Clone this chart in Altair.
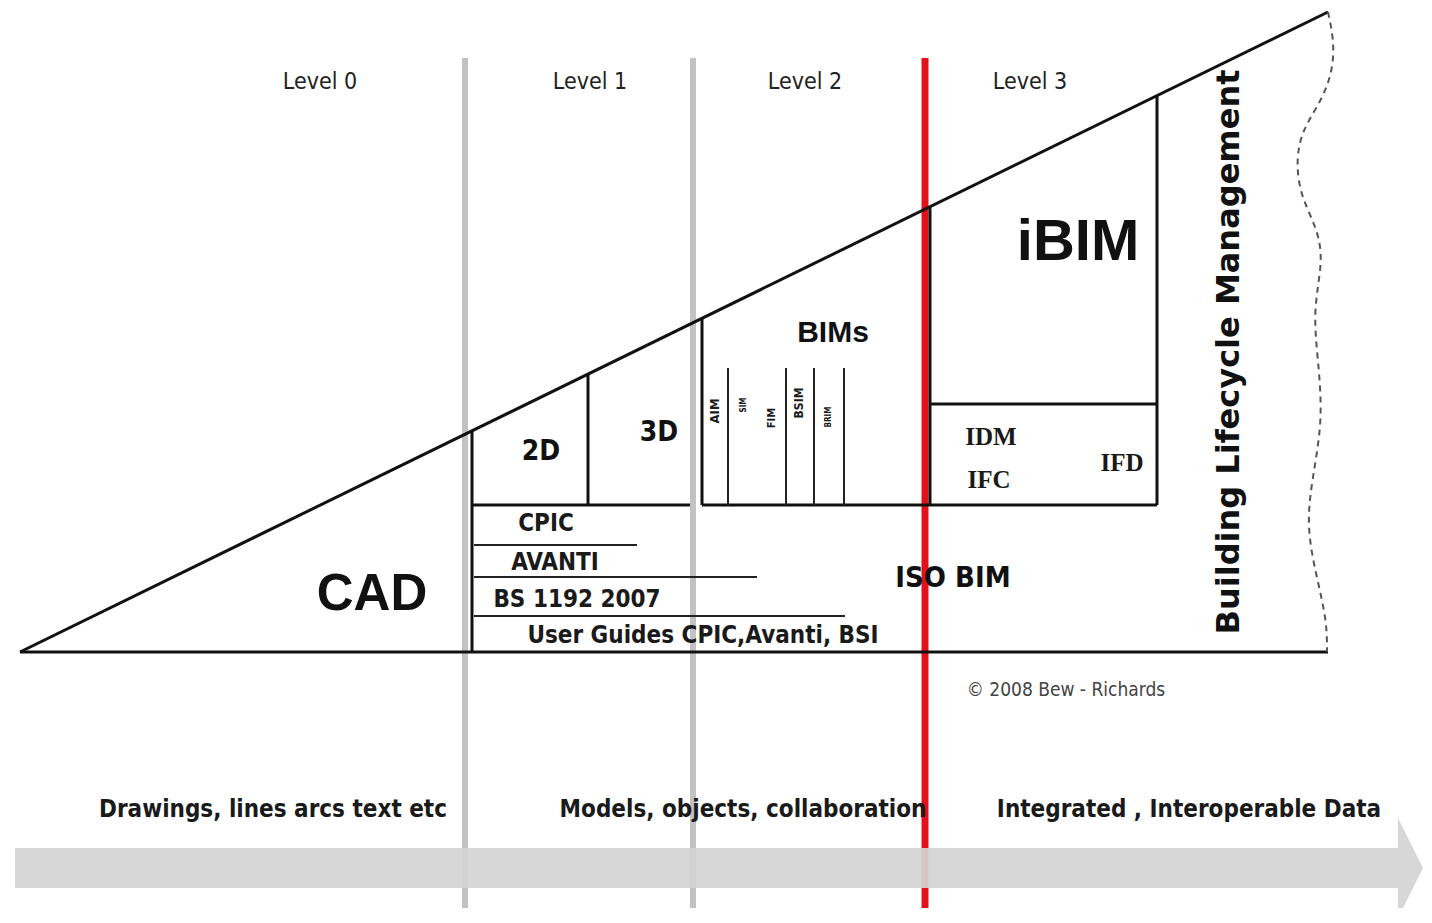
import altair as alt
import pandas as pd

# ---------------- diagram data (reference pixel space) ----------------
# wedge: base-left corner and top-right apex
wedge_x = [20, 1328]
wedge_y = [652, 12]

def hyp(x):
    return wedge_y[0] + (wedge_y[1] - wedge_y[0]) * (x - wedge_x[0]) / (wedge_x[1] - wedge_x[0])

# level divider lines
grey_div_x = [465, 693]
red_div_x = [925]
div_top, div_bottom = 58, 923

# heavy outline segments (x1, y1, x2, y2)
heavy_x1 = [20, 20, 472, 588, 472, 702, 702, 1157, 930, 930]
heavy_y1 = [652, 652, hyp(472), hyp(588), 505, hyp(702), 505, hyp(1157), hyp(930), 404]
heavy_x2 = [1328, 1328, 472, 588, 690, 702, 1157, 1157, 930, 1157]
heavy_y2 = [12, 652, 652, 505, 505, 505, 505, 505, 505, 404]

# thin segments: BIMs sub-columns and Level-1 standards rows
thin_x1 = [728, 786, 814, 844, 474, 474, 474]
thin_y1 = [368, 368, 368, 368, 545, 577, 616]
thin_x2 = [728, 786, 814, 844, 637, 757, 845]
thin_y2 = [505, 505, 505, 505, 545, 577, 616]

# wavy dashed right edge
wave_y = [12, 40, 70, 100, 130, 160, 195, 230, 262, 310, 360, 420, 480, 530, 590, 625, 652]
wave_x = [1328, 1334, 1333, 1322, 1302, 1296, 1300, 1318, 1323, 1313, 1318, 1323, 1312, 1306, 1320, 1327, 1327]

# bottom arrow
arrow_band = [15, 1398, 848, 888]           # x, x2, y, y2
arrow_head_x = [1398, 1423]
arrow_head_y1 = [818, 868]
arrow_head_y2 = [918, 868]

# texts
level_labels = ["Level 0", "Level 1", "Level 2", "Level 3"]
level_x = [320, 590, 805, 1030]
level_y = [82, 82, 82, 82]

bold_labels = ["CAD", "iBIM", "BIMs", "ISO BIM", "2D", "3D"]
bold_x = [372, 1078, 833, 953, 541, 659]
bold_y = [595, 243, 333, 578, 452, 433]
bold_size = [51, 58, 30, 29, 28, 28]

serif_labels = ["IDM", "IFC", "IFD"]
serif_x = [991, 989, 1122]
serif_y = [437, 480, 463]

std_labels = ["CPIC", "AVANTI", "BS 1192 2007", "User Guides CPIC,Avanti, BSI"]
std_x = [546, 555, 577, 703]
std_y = [524, 563, 600, 636]

bims_labels = ["AIM", "SIM", "FIM", "BSIM", "BRIM"]
bims_x = [715, 744, 772, 799, 829]
bims_y = [411, 405, 418, 403, 417]
bims_size = [13, 8, 11, 12, 8]

caption_labels = ["Drawings,  lines arcs text etc", "Models, objects,  collaboration",
                  "Integrated ,  Interoperable Data"]
caption_x = [273, 743, 1189]
caption_y = [810, 810, 810]

side_label = "Building Lifecycle Management"
side_x, side_y = 1229, 352

copyright_label = "\u00a9 2008 Bew - Richards"
copyright_x, copyright_y = 1066, 690

# ---------------- scales ----------------
W, H = 1416, 900
xs = alt.Scale(domain=[8, 8 + W], nice=False, zero=False)
ys = alt.Scale(domain=[8 + H, 8], nice=False, zero=False)
X = lambda f: alt.X(f, type="quantitative", scale=xs, axis=None)
Y = lambda f: alt.Y(f, type="quantitative", scale=ys, axis=None)
X2 = lambda f: alt.X2(f)
Y2 = lambda f: alt.Y2(f)

# arrow
band_df = pd.DataFrame({"x": [arrow_band[0]], "x2": [arrow_band[1]], "y": [arrow_band[2]], "y2": [arrow_band[3]]})
band = alt.Chart(band_df).mark_rect(color="#d4d4d4", opacity=0.92).encode(
    x=X("x"), x2=X2("x2"), y=Y("y"), y2=Y2("y2"))
head_df = pd.DataFrame({"x": arrow_head_x, "y": arrow_head_y1, "y2": arrow_head_y2})
head = alt.Chart(head_df).mark_area(color="#d4d4d4", opacity=0.92).encode(
    x=X("x"), y=Y("y"), y2=Y2("y2"))

# dividers
gdiv_df = pd.DataFrame({"x": grey_div_x, "y": [div_top] * len(grey_div_x), "y2": [div_bottom] * len(grey_div_x)})
gdiv = alt.Chart(gdiv_df).mark_rule(color="#c2c2c2", strokeWidth=6).encode(
    x=X("x"), y=Y("y"), y2=Y2("y2"))
rdiv_df = pd.DataFrame({"x": red_div_x, "y": [div_top], "y2": [div_bottom]})
rdiv = alt.Chart(rdiv_df).mark_rule(color="#e3101a", strokeWidth=7).encode(
    x=X("x"), y=Y("y"), y2=Y2("y2"))

# outline
heavy_df = pd.DataFrame({"x": heavy_x1, "y": heavy_y1, "x2": heavy_x2, "y2": heavy_y2})
heavy = alt.Chart(heavy_df).mark_rule(color="#111111", strokeWidth=3).encode(
    x=X("x"), y=Y("y"), x2=X2("x2"), y2=Y2("y2"))
thin_df = pd.DataFrame({"x": thin_x1, "y": thin_y1, "x2": thin_x2, "y2": thin_y2})
thin = alt.Chart(thin_df).mark_rule(color="#222222", strokeWidth=2).encode(
    x=X("x"), y=Y("y"), x2=X2("x2"), y2=Y2("y2"))

wave_df = pd.DataFrame({"x": wave_x, "y": wave_y, "o": list(range(len(wave_x)))})
wave = alt.Chart(wave_df).mark_line(color="#555555", strokeWidth=2, strokeDash=[6, 5],
                                    interpolate="basis").encode(
    x=X("x"), y=Y("y"), order="o:Q")

# texts
def tdf(labels, xv, yv):
    return pd.DataFrame({"t": labels, "x": xv, "y": yv})

levels = alt.Chart(tdf(level_labels, level_x, level_y)).mark_text(
    font="DejaVu Sans Condensed", fontSize=23, color="#222222").encode(
    x=X("x"), y=Y("y"), text="t:N")

bold_layers = []
for lab, xv, yv, sz in zip(bold_labels, bold_x, bold_y, bold_size):
    fam = "Liberation Sans" if lab in ("CAD", "iBIM", "BIMs") else "DejaVu Sans Condensed"
    bold_layers.append(alt.Chart(tdf([lab], [xv], [yv])).mark_text(
        font=fam, fontSize=sz, fontWeight="bold", color="#111111").encode(
        x=X("x"), y=Y("y"), text="t:N"))

serif = alt.Chart(tdf(serif_labels, serif_x, serif_y)).mark_text(
    font="Liberation Serif", fontSize=25, fontWeight="bold", color="#1a1a1a").encode(
    x=X("x"), y=Y("y"), text="t:N")

stds = alt.Chart(tdf(std_labels, std_x, std_y)).mark_text(
    font="DejaVu Sans Condensed", fontSize=24, fontWeight="bold", color="#1a1a1a").encode(
    x=X("x"), y=Y("y"), text="t:N")

bims_layers = []
for lab, xv, yv, sz in zip(bims_labels, bims_x, bims_y, bims_size):
    bims_layers.append(alt.Chart(tdf([lab], [xv], [yv])).mark_text(
        font="DejaVu Sans Condensed", fontSize=sz, fontWeight="bold", angle=270,
        color="#1a1a1a").encode(x=X("x"), y=Y("y"), text="t:N"))

captions = alt.Chart(tdf(caption_labels, caption_x, caption_y)).mark_text(
    font="DejaVu Sans Condensed", fontSize=24, fontWeight="bold", color="#1a1a1a").encode(
    x=X("x"), y=Y("y"), text="t:N")

side = alt.Chart(tdf([side_label], [side_x], [side_y])).mark_text(
    font="DejaVu Sans", fontSize=32, fontWeight="bold", angle=270, color="#111111").encode(
    x=X("x"), y=Y("y"), text="t:N")

copyr = alt.Chart(tdf([copyright_label], [copyright_x], [copyright_y])).mark_text(
    font="DejaVu Sans Condensed", fontSize=19, color="#444444").encode(
    x=X("x"), y=Y("y"), text="t:N")

chart = alt.layer(
    gdiv, rdiv, band, head, heavy, thin, wave,
    levels, *bold_layers, serif, stds, *bims_layers, captions, side, copyr
).properties(width=W, height=H, padding=0, background="#ffffff",
             autosize=alt.AutoSizeParams(type="none")
).configure_view(stroke=None, strokeWidth=0)

chart.save("out.html", embed_options={"renderer": "svg", "actions": False})
